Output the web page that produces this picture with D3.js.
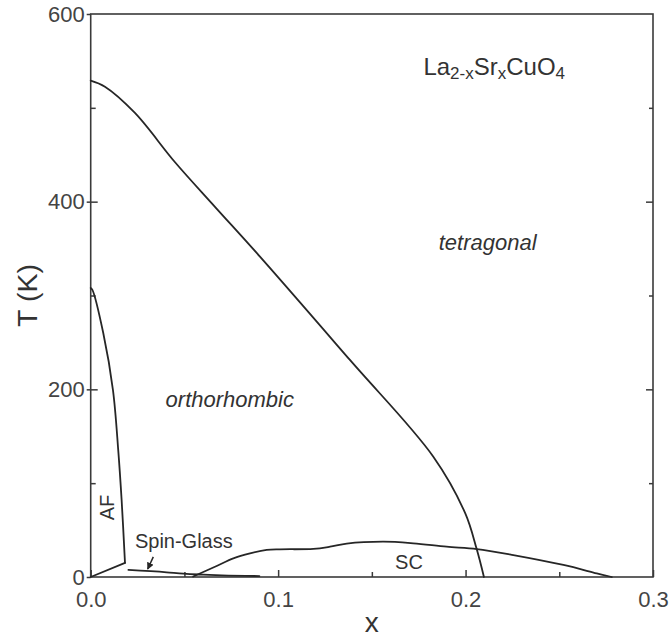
<!DOCTYPE html>
<html>
<head>
<meta charset="utf-8">
<script src="https://cdn.jsdelivr.net/npm/d3@7"></script>
<style>
  html, body { margin: 0; padding: 0; background: #fff; }
  text { font-family: "Liberation Sans", Arial, Helvetica, sans-serif; }
</style>
</head>
<body>
<svg id="chart" width="670" height="639"></svg>
<script>
// ---- data ----
const xDomain = [0, 0.3];
const yDomain = [0, 600];
const xMajorTicks = [0.0, 0.1, 0.2, 0.3];
const xTickLabels = ["0.0", "0.1", "0.2", "0.3"];
const xMinorTicks = [0.05, 0.15, 0.25];
const yMajorTicks = [0, 200, 400, 600];
const yTickLabels = ["0", "200", "400", "600"];
const yMinorTicks = [100, 300, 500];

// tetragonal / orthorhombic boundary
const ttoX = [0.0, 0.0076, 0.0236, 0.045, 0.0663, 0.0903, 0.1383, 0.1828, 0.1998, 0.2059, 0.2098];
const ttoT = [529, 522.5, 494.5, 442, 394.5, 341.4, 231.3, 128.2, 68, 30, 0];

// AF (Neel) boundary
const afX = [0.0, 0.0009, 0.0067, 0.0119, 0.0147, 0.0165, 0.0183];
const afT = [308, 306, 260, 199, 135, 82, 15];
// AF lower closing segment
const afLowX = [0.0183, 0.0];
const afLowT = [15, 0];

// spin-glass line
const sgX = [0.0201, 0.0405, 0.0494, 0.06, 0.07, 0.09];
const sgT = [7.5, 5, 3.5, 2.5, 1.8, 1.0];

// superconducting dome
const scX = [0.0547, 0.0672, 0.0761, 0.085, 0.0939, 0.101, 0.1188, 0.1277, 0.1366, 0.1561, 0.1721, 0.1899, 0.206, 0.2255, 0.2522, 0.27, 0.278];
const scT = [0.5, 11.7, 19.9, 25.2, 28.8, 29.5, 30.0, 32.3, 35.6, 37.6, 35.9, 32.3, 29.8, 23.4, 12.8, 3.9, 0];

// labels
const regionLabels = [
  { text: "tetragonal", x: 0.2118, T: 349, italic: true, size: 22, anchor: "middle" },
  { text: "orthorhombic", x: 0.0742, T: 181, italic: true, size: 22, anchor: "middle" },
  { text: "SC", x: 0.1624, T: 8.5, italic: false, size: 20, anchor: "start" }
];
const afLabel = { text: "AF", x: 0.0120, T: 74 };
const sgLabel = { text: "Spin-Glass", x: 0.0236, T: 30.5 };
const sgArrow = { x1: 0.0334, T1: 21.5, x2: 0.0304, T2: 8.5 };
const compound = { x: 0.1775, T: 535 };

// ---- layout ----
const svg = d3.select("#chart");
const mLeft = 90.7, mRight = 653, mTop = 14, mBottom = 577;
const x = d3.scaleLinear().domain(xDomain).range([mLeft, mRight]);
const y = d3.scaleLinear().domain(yDomain).range([mBottom, mTop]);

const axisColor = "#3a3a3a";
const textColor = "#444";
const lineColor = "#262626";

// frame
svg.append("rect")
  .attr("x", mLeft).attr("y", mTop)
  .attr("width", mRight - mLeft).attr("height", mBottom - mTop)
  .attr("fill", "none").attr("stroke", axisColor).attr("stroke-width", 1.6);

// bottom axis: inward ticks
const xAxisMajor = d3.axisBottom(x).tickValues(xMajorTicks).tickSize(-7).tickFormat((d, i) => xTickLabels[i]).tickPadding(14);
const gx = svg.append("g").attr("transform", `translate(0,${mBottom})`).call(xAxisMajor);
gx.select(".domain").remove();
gx.selectAll("line").attr("stroke", axisColor).attr("stroke-width", 1.5);
gx.selectAll("text").attr("font-size", 22).attr("fill", textColor);

const gxm = svg.append("g").attr("transform", `translate(0,${mBottom})`)
  .call(d3.axisBottom(x).tickValues(xMinorTicks).tickSize(-5).tickFormat(""));
gxm.select(".domain").remove();
gxm.selectAll("line").attr("stroke", axisColor).attr("stroke-width", 1.5);

// left axis: major ticks crossing the axis
const gy = svg.append("g").attr("transform", `translate(${mLeft},0)`)
  .call(d3.axisLeft(y).tickValues(yMajorTicks).tickSize(4).tickFormat((d, i) => yTickLabels[i]).tickPadding(2));
gy.select(".domain").remove();
gy.selectAll("line").attr("stroke", axisColor).attr("stroke-width", 1.5);
gy.selectAll("text").attr("font-size", 22).attr("fill", textColor);

const gyin = svg.append("g").attr("transform", `translate(${mLeft},0)`)
  .call(d3.axisLeft(y).tickValues(yMajorTicks.filter(d => d > 0 && d < 600)).tickSize(-7).tickFormat(""));
gyin.select(".domain").remove();
gyin.selectAll("line").attr("stroke", axisColor).attr("stroke-width", 1.5);

const gym = svg.append("g").attr("transform", `translate(${mLeft},0)`)
  .call(d3.axisLeft(y).tickValues(yMinorTicks).tickSize(-5).tickFormat(""));
gym.select(".domain").remove();
gym.selectAll("line").attr("stroke", axisColor).attr("stroke-width", 1.5);

// right axis inward ticks
const gr = svg.append("g").attr("transform", `translate(${mRight},0)`)
  .call(d3.axisRight(y).tickValues(yMajorTicks.filter(d => d > 0 && d < 600)).tickSize(-7).tickFormat(""));
gr.select(".domain").remove();
gr.selectAll("line").attr("stroke", axisColor).attr("stroke-width", 1.5);
const grm = svg.append("g").attr("transform", `translate(${mRight},0)`)
  .call(d3.axisRight(y).tickValues(yMinorTicks).tickSize(-4).tickFormat(""));
grm.select(".domain").remove();
grm.selectAll("line").attr("stroke", axisColor).attr("stroke-width", 1.5);

// axis titles
svg.append("text").attr("x", (mLeft + mRight) / 2).attr("y", 632)
  .attr("text-anchor", "middle").attr("font-size", 28).attr("fill", "#333").text("x");
svg.append("text")
  .attr("transform", `translate(37,${(mTop + mBottom) / 2}) rotate(-90)`)
  .attr("text-anchor", "middle").attr("font-size", 28.5).attr("fill", "#333").text("T (K)");

// ---- curves ----
function pts(xs, ts) { return xs.map((v, i) => [v, ts[i]]); }
const lineCR = d3.line().x(d => x(d[0])).y(d => y(d[1])).curve(d3.curveCatmullRom.alpha(0.5));
const lineMono = d3.line().x(d => x(d[0])).y(d => y(d[1])).curve(d3.curveMonotoneX);
const lineLin = d3.line().x(d => x(d[0])).y(d => y(d[1]));

const curves = svg.append("g").attr("fill", "none").attr("stroke", lineColor).attr("stroke-width", 1.8)
  .attr("stroke-linejoin", "round").attr("stroke-linecap", "round");
curves.append("path").attr("d", lineCR(pts(ttoX, ttoT)));
curves.append("path").attr("d", lineCR(pts(afX, afT)));
curves.append("path").attr("d", lineLin(pts(afLowX, afLowT)));
curves.append("path").attr("d", lineMono(pts(sgX, sgT)));
curves.append("path").attr("d", lineCR(pts(scX, scT)));

// arrow for spin-glass
const defs = svg.append("defs");
defs.append("marker").attr("id", "ah").attr("viewBox", "0 0 10 10")
  .attr("refX", 9).attr("refY", 5).attr("markerWidth", 7).attr("markerHeight", 7)
  .attr("markerUnits", "userSpaceOnUse").attr("orient", "auto")
  .append("path").attr("d", "M0,0 L10,5 L0,10 z").attr("fill", lineColor);
svg.append("line")
  .attr("x1", x(sgArrow.x1)).attr("y1", y(sgArrow.T1))
  .attr("x2", x(sgArrow.x2)).attr("y2", y(sgArrow.T2))
  .attr("stroke", lineColor).attr("stroke-width", 1.5).attr("marker-end", "url(#ah)");

// ---- labels ----
regionLabels.forEach(l => {
  svg.append("text").attr("x", x(l.x)).attr("y", y(l.T))
    .attr("text-anchor", l.anchor).attr("font-size", l.size)
    .attr("font-style", l.italic ? "italic" : "normal")
    .attr("fill", "#333").text(l.text);
});
svg.append("text")
  .attr("transform", `translate(${x(afLabel.x) + 1},${y(afLabel.T)}) rotate(-90)`)
  .attr("text-anchor", "middle").attr("font-size", 20).attr("fill", "#333").text(afLabel.text);
svg.append("text").attr("x", x(sgLabel.x)).attr("y", y(sgLabel.T))
  .attr("font-size", 20).attr("fill", "#333").text(sgLabel.text);

// compound formula with subscripts
const comp = svg.append("text").attr("x", x(compound.x)).attr("y", y(compound.T))
  .attr("font-size", 24).attr("fill", "#333");
const parts = [["La", false], ["2-x", true], ["Sr", false], ["x", true], ["CuO", false], ["4", true]];
parts.forEach(([t, sub], i) => {
  const ts = comp.append("tspan").text(t);
  if (sub) ts.attr("font-size", 17).attr("dy", 4);
  else ts.attr("dy", i > 0 ? -4 : 0);
});
</script>
</body>
</html>
